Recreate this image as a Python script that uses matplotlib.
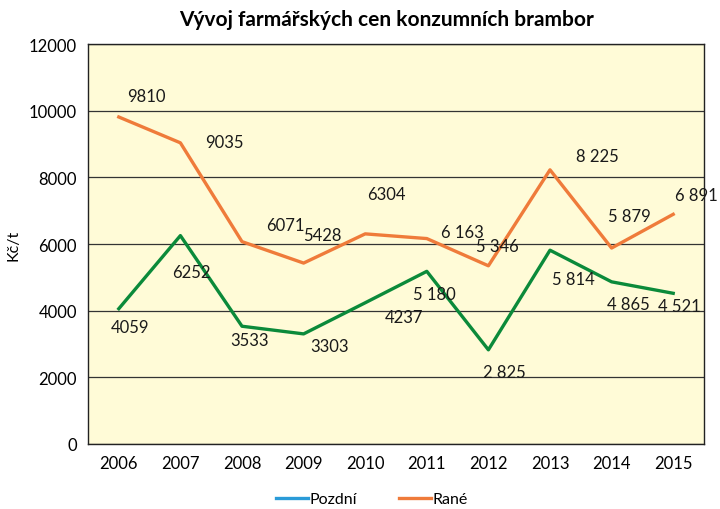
import matplotlib
matplotlib.use("Agg")
import matplotlib.pyplot as plt
from matplotlib.lines import Line2D

years = ["2006", "2007", "2008", "2009", "2010", "2011", "2012", "2013", "2014", "2015"]
pozdni = [4059, 6252, 3533, 3303, 4237, 5180, 2825, 5814, 4865, 4521]
rane = [9810, 9035, 6071, 5428, 6304, 6163, 5346, 8225, 5879, 6891]
pozdni_labels = ["4059", "6252", "3533", "3303", "4237", "5 180", "2 825", "5 814", "4 865", "4 521"]
rane_labels = ["9810", "9035", "6071", "5428", "6304", "6 163", "5 346", "8 225", "5 879", "6 891"]

# label offsets in pixels (dx, dy up)
rane_off = [(28, 21), (44, 1), (43, 17), (19, 28), (21, 40), (36, 7), (9, 20), (47, 14), (18, 32), (23, 19)]
pozdni_off = [(11, -18), (11, -36), (8, -14), (26, -12), (39, -14), (8, -23), (16, -22), (23, -29), (17, -22), (6, -13)]

plt.rcParams["font.family"] = ["Lato", "DejaVu Sans"]

fig = plt.figure(figsize=(7.2, 5.1), dpi=100)
ax = fig.add_axes([88 / 720, 1 - 445 / 510, 616 / 720, 400 / 510])
ax.set_facecolor("#FFFBD7")

x = list(range(len(years)))
ax.plot(x, pozdni, color="#0B8A3A", linewidth=2.4, zorder=3)
ax.plot(x, rane, color="#EF7B3A", linewidth=2.4, zorder=3)

for xi, v, lab, (dx, dy) in zip(x, rane, rane_labels, rane_off):
    ax.annotate(lab, (xi, v), xytext=(dx, dy), textcoords="offset pixels",
                ha="center", va="center", fontsize=12, color="#1a1a1a", zorder=4)
for xi, v, lab, (dx, dy) in zip(x, pozdni, pozdni_labels, pozdni_off):
    ax.annotate(lab, (xi, v), xytext=(dx, dy), textcoords="offset pixels",
                ha="center", va="center", fontsize=12, color="#1a1a1a", zorder=4)

ax.set_xlim(-0.5, len(years) - 0.5)
ax.set_ylim(0, 12000)
ax.set_yticks(range(0, 12001, 2000))
ax.set_xticks(x)
ax.set_xticklabels(years)
ax.tick_params(axis="both", length=0, labelsize=12, pad=8)
ax.grid(axis="y", color="#333333", linewidth=0.9)
ax.set_axisbelow(True)
for s in ax.spines.values():
    s.set_color("#222222")
    s.set_linewidth(1.0)

ax.set_ylabel("Kč/t", fontsize=11.5, labelpad=6)
fig.text(387 / 720, 1 - 20 / 510, "Vývoj farmářských cen konzumních brambor",
         ha="center", va="center", fontsize=15, fontweight="bold")

handles = [Line2D([], [], color="#2A9BD8", linewidth=2.4),
           Line2D([], [], color="#EF7B3A", linewidth=2.4)]
fig.legend(handles, ["Pozdní", "Rané"], loc="center", bbox_to_anchor=(372 / 720, 1 - 500 / 510),
           ncol=2, frameon=False, fontsize=11.5, handlelength=2.0, handletextpad=0.1, columnspacing=2.6)

fig.savefig("out.png", dpi=100)
